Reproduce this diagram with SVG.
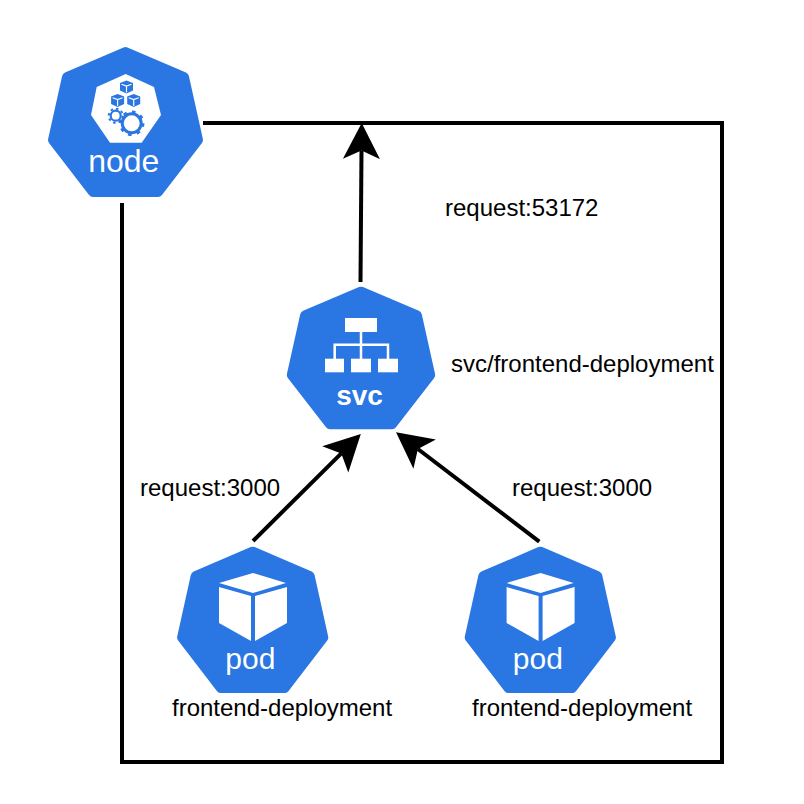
<svg xmlns="http://www.w3.org/2000/svg" width="804" height="804" viewBox="0 0 804 804">
<style>
.hept{fill:#2a76e3;stroke:#2a76e3;stroke-width:10;stroke-linejoin:round}
.w{fill:#fff}
.lbl{font-family:"Liberation Sans",Arial,sans-serif;font-size:24px;fill:#000}
.title{font-family:"Liberation Sans",Arial,sans-serif;fill:#fff;text-anchor:middle}
.conn{fill:none;stroke:#000;stroke-width:4}
.cube{fill:#2a76e3}
.cubeline{fill:none;stroke:#fff;stroke-width:1.200}
.tree{fill:none;stroke:#fff;stroke-width:2.500}
.gear{fill:#fff;stroke:#2a76e3}
</style>
<defs>
<marker id="arrow" markerUnits="userSpaceOnUse" markerWidth="40" markerHeight="40" viewBox="0 -20 40 40" refX="8.500" refY="0" orient="auto">
<path d="M0 -18.500 L36 0 L0 18.500 L8.500 0 Z" fill="#000"/>
</marker>
<g id="mini">
<path class="cube" d="M0 -6.500 L6.500 -4 V3.500 L0 6.500 L-6.500 3.500 V-4Z"/>
<path class="cubeline" d="M-5 -2.800 L0 -1 L5 -2.800 M0 -1 V5.500"/>
</g>
<g id="podshape">
<polygon class="hept" points="252.700,551.700 309.700,576.200 323.300,637.500 284.400,688.100 221,688.100 182.100,637.500 195.700,576.200"/>
<path class="w" d="M253 573 L286 583 L253 593 L219 583Z M219 587 L251 596 V641 L219 623Z M287 587 L255 596 V641 L287 623Z"/>
<text class="title" x="250.300" y="669" font-size="30">pod</text>
</g>
</defs>
<g id="connectors">
<path class="conn" d="M203 123 H722 V762 H122 V203"/>
<path class="conn" d="M360.500 282 L361.500 150.500" marker-end="url(#arrow)"/>
<path class="conn" d="M253 541 L341.300 453.400" marker-end="url(#arrow)"/>
<path class="conn" d="M539.300 541.700 L417.900 449" marker-end="url(#arrow)"/>
</g>
<g id="node">
<polygon class="hept" points="125.500,52 184,77 198,140 158,192 93,192 53,140 67,77"/>
<polygon class="w" points="125.700,74 154,87 161,115 141.700,142.700 110,142.700 91,115 96.700,87"/>
<use href="#mini" x="126.500" y="87"/>
<use href="#mini" x="117.600" y="100.500"/>
<use href="#mini" x="133.700" y="100.500"/>
<circle class="gear" cx="115.700" cy="115.700" r="5" stroke-width="2.200"/>
<circle cx="115.700" cy="115.700" r="7" fill="none" stroke="#2a76e3" stroke-width="2" stroke-dasharray="2.500 3"/>
<circle class="gear" cx="131.700" cy="123.300" r="9.500" stroke-width="3"/>
<circle cx="131.700" cy="123.300" r="11.500" fill="none" stroke="#2a76e3" stroke-width="2.500" stroke-dasharray="3.500 5.530"/>
<text class="title" x="123.800" y="172" font-size="32">node</text>
</g>
<g id="svc">
<polygon class="hept" points="361,291.700 416.900,315.400 430.200,375 392,424.300 330,424.300 291.800,375 305.100,315.400"/>
<rect class="w" x="345" y="318" width="32" height="14"/>
<rect class="w" x="325" y="358.700" width="19" height="13.600"/>
<rect class="w" x="351" y="358.700" width="20" height="13.600"/>
<rect class="w" x="378" y="358.700" width="20" height="13.600"/>
<path class="tree" d="M361 332 V359 M334.700 359 V344.700 H388 V359"/>
<text class="title" x="359.500" y="404.500" font-size="28" font-weight="bold">svc</text>
</g>
<g id="pod1"><use href="#podshape"/></g>
<g id="pod2"><use href="#podshape" x="287.600"/></g>
<g id="labels">
<text class="lbl" x="445" y="216">request:53172</text>
<text class="lbl" x="451" y="372">svc/frontend-deployment</text>
<text class="lbl" x="140" y="496">request:3000</text>
<text class="lbl" x="512" y="496">request:3000</text>
<text class="lbl" x="172" y="716">frontend-deployment</text>
<text class="lbl" x="472" y="716">frontend-deployment</text>
</g>
</svg>
